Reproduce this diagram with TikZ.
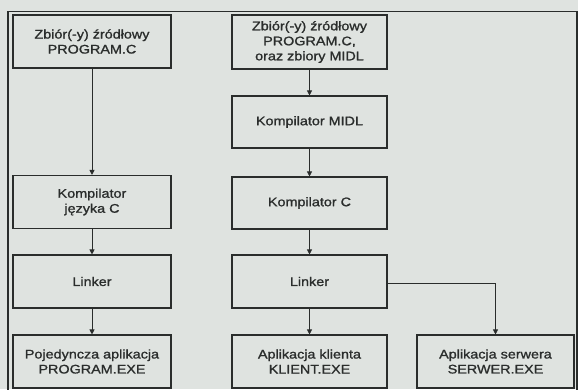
\documentclass[tikz,border=0pt]{standalone}
\usepackage{fontspec}
\setmainfont{Liberation Sans}
\newfontfamily\diafont[FakeStretch=1.15,FakeBold=1.2]{Liberation Sans}
\usetikzlibrary{arrows.meta}
\definecolor{bgc}{HTML}{DFE3E0}
\definecolor{ink}{HTML}{2A2D2C}
\begin{document}
\begin{tikzpicture}[x=1pt,y=-1pt,
  box/.style={draw=ink,line width=1.1pt,fill=bgc,minimum height=53pt,
    align=center,inner sep=2pt,text=ink,
    font=\diafont\fontsize{12.5}{15}\selectfont},
  lbox/.style={box,minimum width=158pt},
  mbox/.style={box,minimum width=155pt},
  conn/.style={draw=ink,line width=0.8pt,-{Triangle[length=5pt,width=5pt]}}]
\fill[bgc] (0,0) rectangle (578,389);
\useasboundingbox (0,0) rectangle (578,389);
\draw[ink,line width=1.6pt] (8,395) -- (8,11.5) -- (577,11.5) -- (577,395);
% left column
\node[lbox] (l1) at (92,41.5) {Zbiór(-y) źródłowy\\PROGRAM.C};
\node[lbox] (l2) at (92,202) {Kompilator\\języka C};
\node[lbox] (l3) at (92,281.5) {Linker};
\node[lbox] (l4) at (92,361.5) {Pojedyncza aplikacja\\PROGRAM.EXE};
% middle column
\node[mbox,minimum height=54pt] (m1) at (309.5,42) {Zbiór(-y) źródłowy\\PROGRAM.C,\\oraz zbiory MIDL};
\node[mbox,minimum height=52pt] (m2) at (309.5,122) {Kompilator MIDL};
\node[mbox,minimum height=52pt] (m3) at (309.5,203) {Kompilator C};
\node[mbox] (m4) at (309.5,281.5) {Linker};
\node[mbox] (m5) at (309.5,361.5) {Aplikacja klienta\\KLIENT.EXE};
% server
\node[box,minimum width=157pt] (s) at (495.5,361.5) {Aplikacja serwera\\SERWER.EXE};
% connectors
\draw[conn] (l1) -- (l2);
\draw[conn] (l2) -- (l3);
\draw[conn] (l3) -- (l4);
\draw[conn] (m1) -- (m2);
\draw[conn] (m2) -- (m3);
\draw[conn] (m3) -- (m4);
\draw[conn] (m4) -- (m5);
\draw[conn] (m4.east) ++(0,1.5) -| (s.north);
\end{tikzpicture}
\end{document}
